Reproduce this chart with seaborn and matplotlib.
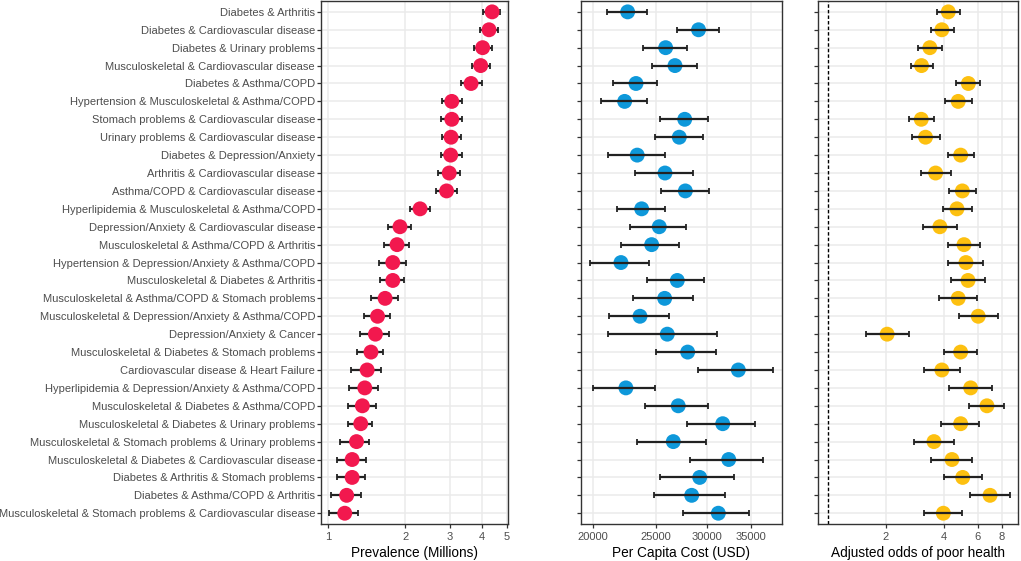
import numpy as np
import pandas as pd
import seaborn as sns
import matplotlib
matplotlib.use("Agg")
import matplotlib.pyplot as plt
from matplotlib.ticker import FixedLocator, FixedFormatter, NullLocator

combos = [
    "Diabetes & Arthritis",
    "Diabetes & Cardiovascular disease",
    "Diabetes & Urinary problems",
    "Musculoskeletal & Cardiovascular disease",
    "Diabetes & Asthma/COPD",
    "Hypertension & Musculoskeletal & Asthma/COPD",
    "Stomach problems & Cardiovascular disease",
    "Urinary problems & Cardiovascular disease",
    "Diabetes & Depression/Anxiety",
    "Arthritis & Cardiovascular disease",
    "Asthma/COPD & Cardiovascular disease",
    "Hyperlipidemia & Musculoskeletal & Asthma/COPD",
    "Depression/Anxiety & Cardiovascular disease",
    "Musculoskeletal & Asthma/COPD & Arthritis",
    "Hypertension & Depression/Anxiety & Asthma/COPD",
    "Musculoskeletal & Diabetes & Arthritis",
    "Musculoskeletal & Asthma/COPD & Stomach problems",
    "Musculoskeletal & Depression/Anxiety & Asthma/COPD",
    "Depression/Anxiety & Cancer",
    "Musculoskeletal & Diabetes & Stomach problems",
    "Cardiovascular disease & Heart Failure",
    "Hyperlipidemia & Depression/Anxiety & Asthma/COPD",
    "Musculoskeletal & Diabetes & Asthma/COPD",
    "Musculoskeletal & Diabetes & Urinary problems",
    "Musculoskeletal & Stomach problems & Urinary problems",
    "Musculoskeletal & Diabetes & Cardiovascular disease",
    "Diabetes & Arthritis & Stomach problems",
    "Diabetes & Asthma/COPD & Arthritis",
    "Musculoskeletal & Stomach problems & Cardiovascular disease",
]

# prevalence (millions)
prev = [4.39, 4.27, 4.03, 3.96, 3.63, 3.05, 3.05, 3.03, 3.02, 2.98, 2.91, 2.29, 1.91, 1.86, 1.79,
        1.79, 1.67, 1.56, 1.53, 1.47, 1.42, 1.39, 1.36, 1.34, 1.29, 1.24, 1.24, 1.18, 1.16]
prev_lo = [4.06, 3.94, 3.74, 3.66, 3.31, 2.79, 2.77, 2.79, 2.76, 2.70, 2.65, 2.09, 1.71, 1.66, 1.58,
           1.60, 1.47, 1.38, 1.33, 1.30, 1.23, 1.21, 1.19, 1.19, 1.11, 1.08, 1.08, 1.02, 1.01]
prev_hi = [4.72, 4.65, 4.37, 4.31, 4.01, 3.34, 3.35, 3.32, 3.33, 3.28, 3.21, 2.51, 2.11, 2.07, 2.01,
           1.98, 1.87, 1.75, 1.73, 1.64, 1.61, 1.56, 1.54, 1.49, 1.45, 1.40, 1.39, 1.34, 1.31]

# per capita cost (USD)
cost = [22640, 29100, 25900, 26770, 23320, 22400, 27710, 27180, 23420, 25840, 27770, 23790, 25320, 24650, 22110,
        26990, 25810, 23650, 26050, 28000, 33500, 22500, 27080, 31700, 26610, 32380, 29220, 28400, 31210]
cost_lo = [21020, 26930, 23880, 24650, 21510, 20600, 25380, 24910, 21090, 23250, 25450, 21770, 22820, 22110, 19810,
           24270, 23040, 21190, 21140, 25020, 29040, 20040, 24050, 27930, 23370, 28230, 25410, 24850, 27570]
cost_hi = [24210, 31280, 27930, 28940, 25120, 24210, 30090, 29530, 25870, 28500, 30160, 25840, 27800, 27150, 24410,
           29660, 28560, 26180, 31100, 30920, 37930, 24940, 30120, 35540, 29850, 36520, 32950, 31960, 34830]

# adjusted odds of poor health
odds = [4.21, 3.90, 3.38, 3.06, 5.35, 4.74, 3.05, 3.21, 4.88, 3.62, 4.98, 4.67, 3.81, 5.08, 5.20,
        5.33, 4.74, 6.02, 2.03, 4.88, 3.90, 5.50, 6.68, 4.88, 3.55, 4.40, 5.00, 6.93, 3.97]
odds_lo = [3.67, 3.41, 2.94, 2.69, 4.63, 4.06, 2.63, 2.73, 4.18, 3.03, 4.25, 3.95, 3.12, 4.21, 4.21,
           4.36, 3.78, 4.78, 1.58, 4.00, 3.16, 4.26, 5.41, 3.87, 2.80, 3.44, 3.98, 5.46, 3.15]
odds_hi = [4.84, 4.51, 3.92, 3.51, 6.15, 5.59, 3.55, 3.81, 5.72, 4.33, 5.84, 5.57, 4.67, 6.17, 6.40,
           6.50, 5.93, 7.65, 2.62, 5.95, 4.86, 7.07, 8.16, 6.10, 4.49, 5.57, 6.32, 8.80, 4.94]

df = pd.DataFrame({"combo": combos,
                   "prev": prev, "prev_lo": prev_lo, "prev_hi": prev_hi,
                   "cost": cost, "cost_lo": cost_lo, "cost_hi": cost_hi,
                   "odds": odds, "odds_lo": odds_lo, "odds_hi": odds_hi})

sns.set_style("whitegrid", {"grid.color": "#EBEBEB", "axes.edgecolor": "#333333"})
plt.rcParams["font.family"] = ["Liberation Sans", "DejaVu Sans"]

fig = plt.figure(figsize=(10.21, 5.61), dpi=100)
bottom, height = 0.066, 0.932
ax1 = fig.add_axes([0.3144, bottom, 0.1832, height])
ax2 = fig.add_axes([0.5690, bottom, 0.1969, height])
ax3 = fig.add_axes([0.8012, bottom, 0.1959, height])

panels = [
    (ax1, "prev", "#F2184E", (0.936, 5.07), [1, 2, 3, 4, 5], ["1", "2", "3", "4", "5"],
     "Prevalence (Millions)", False),
    (ax2, "cost", "#0E98DA", (19190, 39100), [20000, 25000, 30000, 35000],
     ["20000", "25000", "30000", "35000"], "Per Capita Cost (USD)", True),
    (ax3, "odds", "#FDC010", (0.89, 9.68), [2, 4, 6, 8], ["2", "4", "6", "8"],
     "Adjusted odds of poor health", True),
]

for ax, col, color, lims, ticks, ticklabels, xlabel, bar_on_top in panels:
    ax.errorbar(df[col], df["combo"],
                xerr=[df[col] - df[col + "_lo"], df[col + "_hi"] - df[col]],
                fmt="none", ecolor="#222222", elinewidth=1.6, capsize=2.3, capthick=1.3,
                zorder=4 if bar_on_top else 2)
    sns.scatterplot(data=df, x=col, y="combo", ax=ax, color=color, s=115,
                    edgecolor="none", linewidth=0, zorder=3, legend=False)
    ax.set_xscale("log")
    ax.set_xlim(*lims)
    ax.xaxis.set_major_locator(FixedLocator(ticks))
    ax.xaxis.set_major_formatter(FixedFormatter(ticklabels))
    ax.xaxis.set_minor_locator(NullLocator())
    ax.set_ylim(len(combos) - 0.4, -0.6)
    ax.set_xlabel(xlabel, fontsize=9.8, color="black", labelpad=3)
    ax.set_ylabel("")
    ax.grid(True, color="#EBEBEB", linewidth=1.1)
    ax.set_axisbelow(True)
    for sp in ax.spines.values():
        sp.set_color("#333333")
        sp.set_linewidth(1.0)
    ax.tick_params(axis="both", which="major", direction="out", length=2.75, width=0.9,
                   color="#333333", labelcolor="#4D4D4D", labelsize=8, pad=1.5,
                   bottom=True, left=True)
    ax.tick_params(axis="x", pad=3)

ax3.axvline(1, color="black", linestyle=(0, (2.5, 1.5)), linewidth=1.0, zorder=2)
ax2.set_yticklabels([])
ax3.set_yticklabels([])

fig.savefig("out.png", dpi=100)
